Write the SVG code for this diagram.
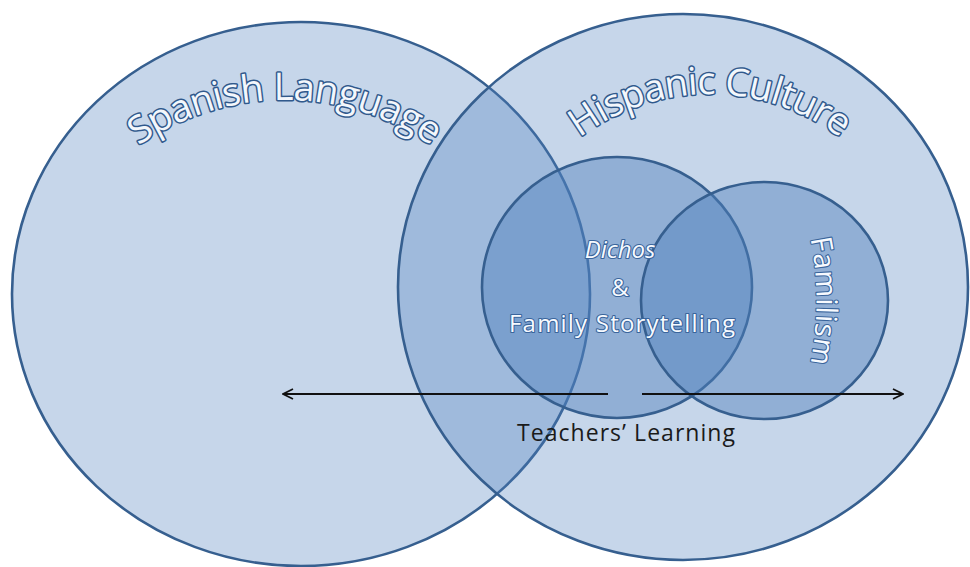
<svg xmlns="http://www.w3.org/2000/svg" width="970" height="567" viewBox="0 0 970 567">
  <style>
    .set { fill: #4f81bd; stroke: #365f8f; stroke-width: 2.6; }
    .big { fill-opacity: 0.32; }
    .small { fill-opacity: 0.45; }
    .title { font-family: "Open Sans", "Liberation Sans", sans-serif; font-size: 38px; fill: #f3f7fc; stroke: #30598c; stroke-width: 3; paint-order: stroke; stroke-linejoin: round; }
    .inner { font-family: "Open Sans", "Liberation Sans", sans-serif; font-size: 24px; fill: #f7faff; stroke: #3a659c; stroke-width: 2.2; paint-order: stroke; stroke-linejoin: round; }
    .axis { stroke: #111; stroke-width: 2; fill: none; }
    .label { font-family: "Open Sans", "Liberation Sans", sans-serif; font-size: 23px; fill: #1a1a1a; }
  </style>
  <defs>
    <marker id="chev" viewBox="0 0 12 12" refX="11" refY="6" markerWidth="12" markerHeight="12" markerUnits="userSpaceOnUse" orient="auto">
      <path d="M1 1 L11 6 L1 11" fill="none" stroke="#111" stroke-width="1.8"/>
    </marker>
    <!-- baselines for the curved set titles -->
    <path id="arcSpanish" d="M 27 358 A 258 258 0 0 1 543 358"/>
    <path id="arcHispanic" d="M 494 310 A 216 216 0 0 1 926 310"/>
    <path id="arcFamilism" d="M 809 232 Q 824 300 809 370"/>
  </defs>

  <rect width="970" height="567" fill="#ffffff"/>

  <g id="spanish-language">
    <ellipse class="set big" cx="301" cy="294" rx="289" ry="272"/>
  </g>
  <g id="hispanic-culture">
    <ellipse class="set big" cx="683" cy="287" rx="285" ry="273"/>
  </g>
  <g id="dichos">
    <ellipse class="set small" cx="617" cy="287.5" rx="135" ry="130.5"/>
  </g>
  <g id="familism">
    <ellipse class="set small" cx="764.5" cy="300.5" rx="123.5" ry="118.5"/>
  </g>

  <g id="titles">
    <text class="title"><textPath href="#arcSpanish" startOffset="50%" text-anchor="middle" textLength="312">Spanish Language</textPath></text>
    <text class="title"><textPath href="#arcHispanic" startOffset="50%" text-anchor="middle" textLength="280">Hispanic Culture</textPath></text>
    <text class="inner" style="font-size:29px"><textPath href="#arcFamilism" startOffset="50%" text-anchor="middle" textLength="126">Familism</textPath></text>
    <text class="inner" x="620" y="258" text-anchor="middle" font-style="italic">Dichos</text>
    <text class="inner" x="620" y="296" text-anchor="middle">&amp;</text>
    <text class="inner" x="622" y="332" text-anchor="middle" textLength="226">Family Storytelling</text>
  </g>

  <g id="connectors">
    <line class="axis" x1="608" y1="394" x2="283" y2="394" marker-end="url(#chev)"/>
    <line class="axis" x1="642" y1="394" x2="903" y2="394" marker-end="url(#chev)"/>
  </g>

  <text class="label" x="626" y="441" text-anchor="middle" textLength="218">Teachers’ Learning</text>
</svg>
